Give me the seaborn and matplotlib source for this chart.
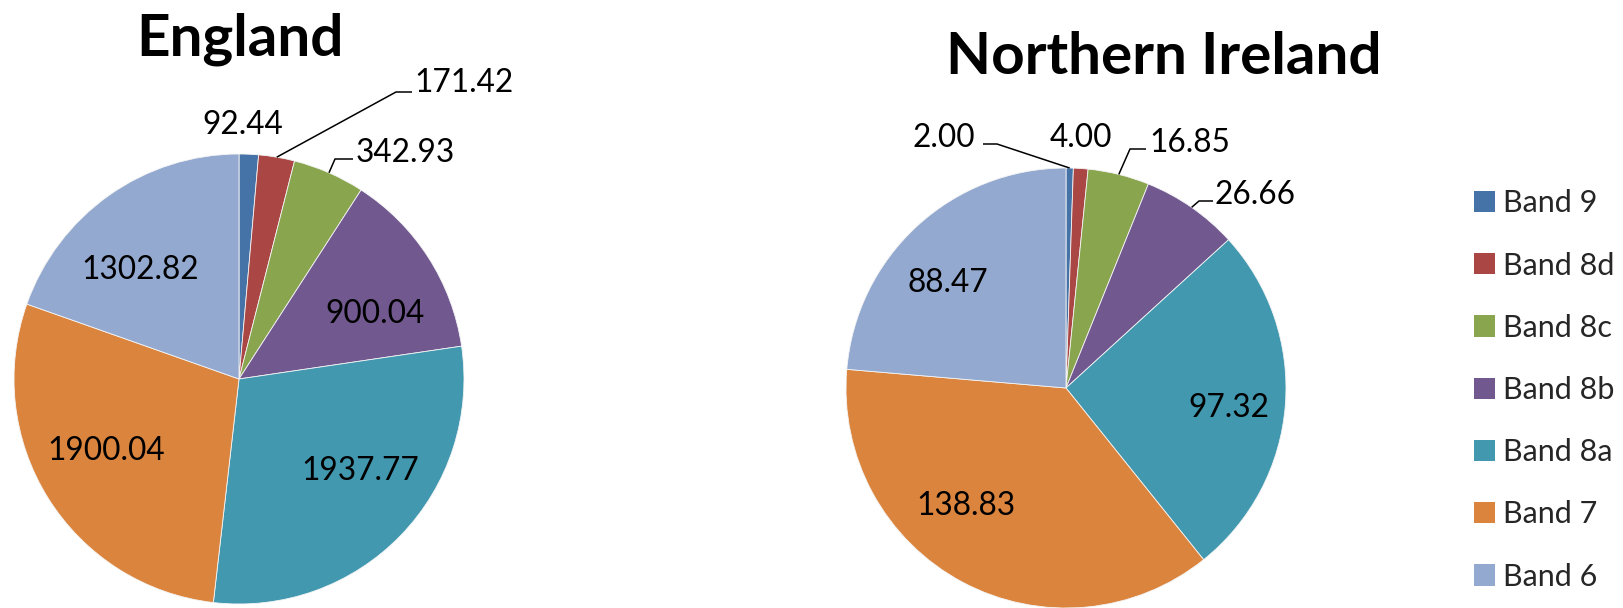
import numpy as np
import matplotlib
matplotlib.use("Agg")
import matplotlib.pyplot as plt
import seaborn as sns

# ---- data ----
bands = ["Band 9", "Band 8d", "Band 8c", "Band 8b", "Band 8a", "Band 7", "Band 6"]
england = [92.44, 171.42, 342.93, 900.04, 1937.77, 1900.04, 1302.82]
northern_ireland = [2.00, 4.00, 16.85, 26.66, 97.32, 138.83, 88.47]
titles = ["England", "Northern Ireland"]
colors = ["#4572A7", "#AA4643", "#89A54E", "#71588F", "#4198AF", "#DB843D", "#93A9CF"]

# ---- layout (pixel coordinates, y from top) ----
W, H = 1623, 608
def Y(py):
    return H - py

pies = [
    dict(values=england, center=(239, 379), radius=225, title=titles[0], title_pos=(240, 55),
         label_pos=[(243, 123), (464, 81), (405, 151), (375, 312), (360, 469), (106, 449), (140, 268)],
         leaders={1: [(396, 92), (412, 92)], 2: [(335, 159), (353, 159)]}),
    dict(values=northern_ireland, center=(1066, 388), radius=220, title=titles[1], title_pos=(1164, 74),
         label_pos=[(944, 136), (1081, 136), (1190, 141), (1255, 193), (1229, 406), (966, 504), (948, 281)],
         leaders={0: [(997, 144), (983, 144)], 2: [(1130, 149), (1146, 149)], 3: [(1199, 201), (1213, 201)]}),
]

sns.set_theme(style="white")
plt.rcParams["font.family"] = ["Lato", "DejaVu Sans"]

fig = plt.figure(figsize=(W / 100, H / 100), dpi=100)
ax = fig.add_axes([0, 0, 1, 1])

label_size = 22.8
wedges_for_legend = None
for p in pies:
    cx, cy = p["center"]
    R = p["radius"]
    wedges, _ = ax.pie(p["values"], colors=colors, startangle=90, counterclock=False,
                       center=(cx, Y(cy)), radius=R,
                       wedgeprops=dict(edgecolor="#f4f4f4", linewidth=0.6))
    if wedges_for_legend is None:
        wedges_for_legend = wedges
    for i, (w, v) in enumerate(zip(wedges, p["values"])):
        tx, ty = p["label_pos"][i]
        ax.text(tx, Y(ty + 11), f"{v:.2f}", ha="center", va="baseline",
                fontsize=label_size, color="black")
        if i in p["leaders"]:
            ang = np.deg2rad((w.theta1 + w.theta2) / 2)
            sx, sy = cx + R * np.cos(ang), Y(cy) + R * np.sin(ang)
            pts = [(sx, sy)] + [(x, Y(y)) for x, y in p["leaders"][i]]
            xs, ys = zip(*pts)
            ax.plot(xs, ys, color="black", lw=1.1, solid_capstyle="butt")
    tx, ty = p["title_pos"]
    ax.text(tx, Y(ty), p["title"], ha="center", va="baseline", fontsize=42,
            fontweight="bold", color="black")

ax.set_xlim(0, W)
ax.set_ylim(0, H)
ax.set_aspect("auto")
ax.axis("off")

leg = fig.legend(wedges_for_legend, bands, loc="center left",
                 bbox_to_anchor=(1474 / W, Y(390) / H), frameon=False,
                 fontsize=22, handlelength=0.69, handleheight=0.69,
                 handletextpad=0.26, labelspacing=1.12, borderpad=0, borderaxespad=0)
for h in leg.legend_handles:
    h.set_edgecolor("none")

fig.savefig("out.png", dpi=100, facecolor="white")
